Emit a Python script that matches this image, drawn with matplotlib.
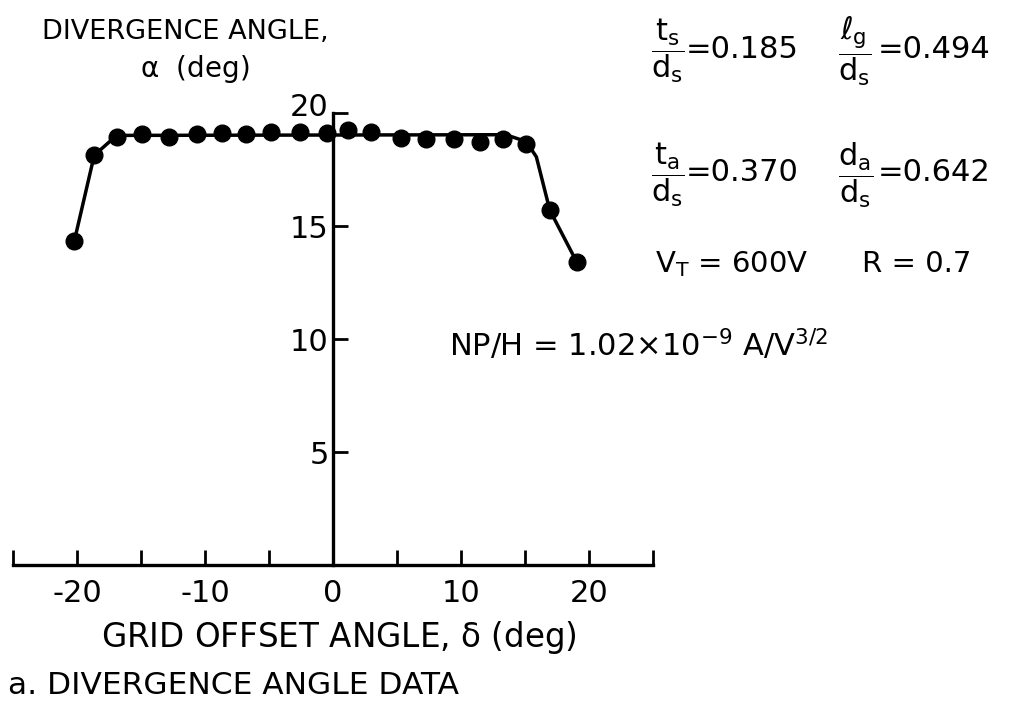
import matplotlib
matplotlib.use("Agg")
import matplotlib.pyplot as plt
from matplotlib.transforms import ScaledTranslation

plt.rcParams['font.family'] = ['DejaVu Sans']
plt.rcParams['mathtext.fontset'] = 'dejavusans'
plt.rcParams['mathtext.default'] = 'regular'

# measured points (grid offset angle vs divergence angle)
offset = [-20.2, -18.65, -16.9, -14.9, -12.8, -10.6, -8.7, -6.8, -4.8, -2.6, -0.45,
          1.2, 2.95, 5.35, 7.3, 9.5, 11.5, 13.3, 15.1, 16.95, 19.05]
diverg = [14.36, 18.14, 18.95, 19.1, 18.95, 19.07, 19.13, 19.1, 19.17, 19.17, 19.13,
          19.28, 19.17, 18.91, 18.88, 18.88, 18.73, 18.85, 18.66, 15.71, 13.42]

# hand faired curve through the data
fair_x = [-20.2, -18.65, -16.9, 13.5, 15.1, 15.9, 16.95, 19.05]
fair_y = [14.36, 18.14, 19.02, 19.05, 18.75, 18.07, 15.71, 13.42]

xticks = [-25, -20, -15, -10, -5, 0, 5, 10, 15, 20, 25]
xlabels = ["", "-20", "", "-10", "", "0", "", "10", "", "20", ""]
yticks = [5, 10, 15, 20]

fig = plt.figure(figsize=(10.14, 7.07), dpi=100)
ax = fig.add_axes([0.0128, 0.2008, 0.631, 0.639])

ax.plot(fair_x, fair_y, color="black", linewidth=2.5, clip_on=False)
ax.plot(offset, diverg, "o", color="black", markersize=12, clip_on=False)

ax.set_xlim(-25, 25)
ax.set_ylim(0, 20)

ax.spines["top"].set_visible(False)
ax.spines["right"].set_visible(False)
ax.spines["left"].set_position(("data", 0))
ax.spines["left"].set_bounds(0, 20)
ax.spines["bottom"].set_linewidth(2.4)
ax.spines["left"].set_linewidth(2.4)

ax.set_xticks(xticks)
ax.set_xticklabels(xlabels)
ax.set_yticks(yticks)
ax.set_yticklabels([str(v) for v in yticks])
ax.tick_params(axis="x", direction="in", length=11, width=2, labelsize=22, pad=10)
ax.tick_params(axis="y", direction="in", length=11, width=2, labelsize=22, pad=3)
# the "20" sits a little above its tick
top = ax.get_yticklabels()[-1]
top.set_transform(top.get_transform() + ScaledTranslation(0, 6 / 72, fig.dpi_scale_trans))
ax.patch.set_visible(False)

fig.text(0.183, 0.955, "DIVERGENCE ANGLE,", fontsize=19.5, ha="center", va="center")
fig.text(0.192, 0.903, r"$\alpha$  (deg)", fontsize=20, ha="center", va="center")
fig.text(0.334, 0.098, r"GRID OFFSET ANGLE, $\delta$ (deg)", fontsize=23.5, ha="center", va="center")
fig.text(0.008, 0.030, "a. DIVERGENCE ANGLE DATA", fontsize=22.5, ha="left", va="center")

fs = 22
fig.text(0.642, 0.928, r"$\dfrac{t_s}{d_s}$", fontsize=fs, ha="left", va="center")
fig.text(0.676, 0.930, "=0.185", fontsize=fs, ha="left", va="center")
fig.text(0.826, 0.928, r"$\dfrac{\ell_g}{d_s}$", fontsize=fs, ha="left", va="center")
fig.text(0.866, 0.930, "=0.494", fontsize=fs, ha="left", va="center")
fig.text(0.642, 0.753, r"$\dfrac{t_a}{d_s}$", fontsize=fs, ha="left", va="center")
fig.text(0.676, 0.756, "=0.370", fontsize=fs, ha="left", va="center")
fig.text(0.826, 0.753, r"$\dfrac{d_a}{d_s}$", fontsize=fs, ha="left", va="center")
fig.text(0.866, 0.756, "=0.642", fontsize=fs, ha="left", va="center")
fig.text(0.646, 0.627, r"V$_T$ = 600V", fontsize=21, ha="left", va="center")
fig.text(0.850, 0.627, "R = 0.7", fontsize=21, ha="left", va="center")
fig.text(0.443, 0.512, r"NP/H = 1.02$\times$10$^{-9}$ A/V$^{3/2}$", fontsize=fs, ha="left", va="center")

fig.savefig("out.png", dpi=100)
